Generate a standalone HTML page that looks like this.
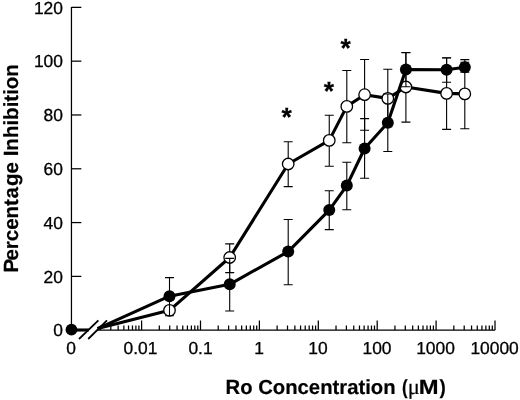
<!DOCTYPE html><html><head><meta charset="utf-8"><style>html,body{margin:0;padding:0;background:#fff}svg{display:block;will-change:transform;opacity:0.999}text{text-rendering:geometricPrecision}</style></head><body><svg width="520" height="400" viewBox="0 0 520 400">
<rect width="520" height="400" fill="#fff"/>
<g stroke="#000" stroke-width="1.25" fill="none">
<path d="M71.45 6.9V330.0"/>
<path d="M71.45 276.39H81.35000000000001"/>
<path d="M71.45 222.58H81.35000000000001"/>
<path d="M71.45 168.78H81.35000000000001"/>
<path d="M71.45 114.97H81.35000000000001"/>
<path d="M71.45 61.16H81.35000000000001"/>
<path d="M71.45 7.35H81.35000000000001"/>
<path d="M97.6 330.0H495.2"/>
<path d="M100.43 330.0V325.5"/>
<path d="M110.80 330.0V325.5"/>
<path d="M118.16 330.0V325.5"/>
<path d="M123.87 330.0V325.5"/>
<path d="M128.53 330.0V325.5"/>
<path d="M132.48 330.0V325.5"/>
<path d="M135.89 330.0V325.5"/>
<path d="M138.90 330.0V325.5"/>
<path d="M141.60 330.0V320.5"/>
<path d="M159.33 330.0V325.5"/>
<path d="M169.70 330.0V325.5"/>
<path d="M177.06 330.0V325.5"/>
<path d="M182.77 330.0V325.5"/>
<path d="M187.43 330.0V325.5"/>
<path d="M191.38 330.0V325.5"/>
<path d="M194.79 330.0V325.5"/>
<path d="M197.80 330.0V325.5"/>
<path d="M200.50 330.0V320.5"/>
<path d="M218.23 330.0V325.5"/>
<path d="M228.60 330.0V325.5"/>
<path d="M235.96 330.0V325.5"/>
<path d="M241.67 330.0V325.5"/>
<path d="M246.33 330.0V325.5"/>
<path d="M250.28 330.0V325.5"/>
<path d="M253.69 330.0V325.5"/>
<path d="M256.70 330.0V325.5"/>
<path d="M259.40 330.0V320.5"/>
<path d="M277.13 330.0V325.5"/>
<path d="M287.50 330.0V325.5"/>
<path d="M294.86 330.0V325.5"/>
<path d="M300.57 330.0V325.5"/>
<path d="M305.23 330.0V325.5"/>
<path d="M309.18 330.0V325.5"/>
<path d="M312.59 330.0V325.5"/>
<path d="M315.60 330.0V325.5"/>
<path d="M318.30 330.0V320.5"/>
<path d="M336.03 330.0V325.5"/>
<path d="M346.40 330.0V325.5"/>
<path d="M353.76 330.0V325.5"/>
<path d="M359.47 330.0V325.5"/>
<path d="M364.13 330.0V325.5"/>
<path d="M368.08 330.0V325.5"/>
<path d="M371.49 330.0V325.5"/>
<path d="M374.50 330.0V325.5"/>
<path d="M377.20 330.0V320.5"/>
<path d="M394.93 330.0V325.5"/>
<path d="M405.30 330.0V325.5"/>
<path d="M412.66 330.0V325.5"/>
<path d="M418.37 330.0V325.5"/>
<path d="M423.03 330.0V325.5"/>
<path d="M426.98 330.0V325.5"/>
<path d="M430.39 330.0V325.5"/>
<path d="M433.40 330.0V325.5"/>
<path d="M436.10 330.0V320.5"/>
<path d="M453.83 330.0V325.5"/>
<path d="M464.20 330.0V325.5"/>
<path d="M471.56 330.0V325.5"/>
<path d="M477.27 330.0V325.5"/>
<path d="M481.93 330.0V325.5"/>
<path d="M485.88 330.0V325.5"/>
<path d="M489.29 330.0V325.5"/>
<path d="M492.30 330.0V325.5"/>
<path d="M495.00 330.0V320.5"/>
</g>
<g stroke="#000" stroke-width="1.8" fill="none">
<path d="M79 339L98.4 320.4"/><path d="M88.2 339L107 320.4"/>
</g>
<path d="M97.6 328.6L169.5 310.3L229.7 257.5L288.2 164L329.25 140.4L346.8 106.4L364.6 94.7L387.8 98.4L405.9 87.0L446.6 93.4L464.8 93.9" stroke="#000" stroke-width="3.1" fill="none" stroke-linejoin="round"/>
<g stroke="#000" stroke-width="1.1" fill="none">
<path d="M169.5 307V313.5M165.0 307H174.0M165.0 313.5H174.0"/>
<path d="M229.7 243.9V272.6M225.2 243.9H234.2M225.2 272.6H234.2"/>
<path d="M288.2 141.75V186.6M283.7 141.75H292.7M283.7 186.6H292.7"/>
<path d="M329.25 115.2V166.3M324.75 115.2H333.75M324.75 166.3H333.75"/>
<path d="M346.8 70.5V142.7M342.3 70.5H351.3M342.3 142.7H351.3"/>
<path d="M364.6 59.5V130.2M360.1 59.5H369.1M360.1 130.2H369.1"/>
<path d="M387.8 69.3V126.8M383.3 69.3H392.3M383.3 126.8H392.3"/>
<path d="M405.9 52.5V122.1M401.4 52.5H410.4M401.4 122.1H410.4"/>
<path d="M446.6 57.7V129.4M442.1 57.7H451.1M442.1 129.4H451.1"/>
<path d="M464.8 59.6V128.8M460.3 59.6H469.3M460.3 128.8H469.3"/>
</g>
<circle cx="169.5" cy="310.3" r="5.75" fill="#fff" stroke="#000" stroke-width="1.3"/>
<circle cx="229.7" cy="257.5" r="5.75" fill="#fff" stroke="#000" stroke-width="1.3"/>
<circle cx="288.2" cy="164" r="5.75" fill="#fff" stroke="#000" stroke-width="1.3"/>
<circle cx="329.25" cy="140.4" r="5.75" fill="#fff" stroke="#000" stroke-width="1.3"/>
<circle cx="346.8" cy="106.4" r="5.75" fill="#fff" stroke="#000" stroke-width="1.3"/>
<circle cx="364.6" cy="94.7" r="5.75" fill="#fff" stroke="#000" stroke-width="1.3"/>
<circle cx="387.8" cy="98.4" r="5.75" fill="#fff" stroke="#000" stroke-width="1.3"/>
<circle cx="405.9" cy="87.0" r="5.75" fill="#fff" stroke="#000" stroke-width="1.3"/>
<circle cx="446.6" cy="93.4" r="5.75" fill="#fff" stroke="#000" stroke-width="1.3"/>
<circle cx="464.8" cy="93.9" r="5.75" fill="#fff" stroke="#000" stroke-width="1.3"/>
<path d="M71.45 330.0H88.7" stroke="#000" stroke-width="3.1"/>
<path d="M97.6 328.6L169.5 296.2L229.7 284.3L288.2 251.6L329.25 210.1L346.8 185.6L364.6 148.5L387.8 122.7L405.9 69.6L446.6 69.7L464.8 67.2" stroke="#000" stroke-width="3.1" fill="none" stroke-linejoin="round"/>
<g stroke="#000" stroke-width="1.1" fill="none">
<path d="M169.5 277.6V315.7M165.0 277.6H174.0M165.0 315.7H174.0"/>
<path d="M229.7 258.4V311.0M225.2 258.4H234.2M225.2 311.0H234.2"/>
<path d="M288.2 219.5V284.75M283.7 219.5H292.7M283.7 284.75H292.7"/>
<path d="M329.25 190.7V229.6M324.75 190.7H333.75M324.75 229.6H333.75"/>
<path d="M346.8 162.2V209.8M342.3 162.2H351.3M342.3 209.8H351.3"/>
<path d="M364.6 118.6V178.3M360.1 118.6H369.1M360.1 178.3H369.1"/>
<path d="M387.8 94V151.5M383.3 94H392.3M383.3 151.5H392.3"/>
<path d="M405.9 52.7V86.8M401.4 52.7H410.4M401.4 86.8H410.4"/>
<path d="M446.6 58V82.3M442.1 58H451.1M442.1 82.3H451.1"/>
<path d="M464.8 62.3V72.2M460.3 62.3H469.3M460.3 72.2H469.3"/>
</g>
<circle cx="169.5" cy="296.2" r="6" fill="#000"/>
<circle cx="229.7" cy="284.3" r="6" fill="#000"/>
<circle cx="288.2" cy="251.6" r="6" fill="#000"/>
<circle cx="329.25" cy="210.1" r="6" fill="#000"/>
<circle cx="346.8" cy="185.6" r="6" fill="#000"/>
<circle cx="364.6" cy="148.5" r="6" fill="#000"/>
<circle cx="387.8" cy="122.7" r="6" fill="#000"/>
<circle cx="405.9" cy="69.6" r="6" fill="#000"/>
<circle cx="446.6" cy="69.7" r="6" fill="#000"/>
<circle cx="464.8" cy="67.2" r="6" fill="#000"/>
<circle cx="71.45" cy="329.7" r="5.9" fill="#000"/>
<g font-family="Liberation Sans, sans-serif" font-size="17.4" fill="#000" stroke="#000" stroke-width="0.3">
<text x="62.9" y="336.40" text-anchor="end">0</text>
<text x="62.9" y="282.59" text-anchor="end">20</text>
<text x="62.9" y="228.78" text-anchor="end">40</text>
<text x="62.9" y="174.97" text-anchor="end">60</text>
<text x="62.9" y="121.17" text-anchor="end">80</text>
<text x="62.9" y="67.36" text-anchor="end">100</text>
<text x="62.9" y="13.55" text-anchor="end">120</text>
<text x="71.1" y="354.4" text-anchor="middle">0</text>
<text x="140.5" y="354.4" text-anchor="middle">0.01</text>
<text x="200.5" y="354.4" text-anchor="middle">0.1</text>
<text x="259" y="354.4" text-anchor="middle">1</text>
<text x="318" y="354.4" text-anchor="middle">10</text>
<text x="377" y="354.4" text-anchor="middle">100</text>
<text x="435.5" y="354.4" text-anchor="middle">1000</text>
<text x="494.6" y="354.4" text-anchor="middle">10000</text>
</g>
<g font-family="Liberation Sans, sans-serif" font-weight="bold" fill="#000" stroke="#000" stroke-width="0.2">
<text transform="translate(225.57 393.8) scale(0.9937 1)" font-size="20.4" >Ro Concentration</text>
<text transform="translate(402.00 393.8) scale(0.8338 1)" font-size="20.4" >(</text>
<text transform="translate(407.82 393.6) scale(1.0255 1)" font-size="22" font-family="Liberation Serif, serif" font-weight="normal">μ</text>
<text transform="translate(418.83 393.9) scale(1.1669 1)" font-size="20.4" >M</text>
<text transform="translate(439.40 393.8) scale(0.9225 1)" font-size="20.4" >)</text>
<text transform="translate(18.0 272.6) rotate(-90)" font-size="20.5" dx="0 -1.7 0 0 0 0 0 0.6 1.1">Percentage Inhibition</text>
<text x="286.6" y="125.8" font-size="26.5" text-anchor="middle">*</text>
<text x="329.0" y="100.1" font-size="26.5" text-anchor="middle">*</text>
<text x="345.6" y="57.1" font-size="26.5" text-anchor="middle">*</text>
</g>
</svg></body></html>
